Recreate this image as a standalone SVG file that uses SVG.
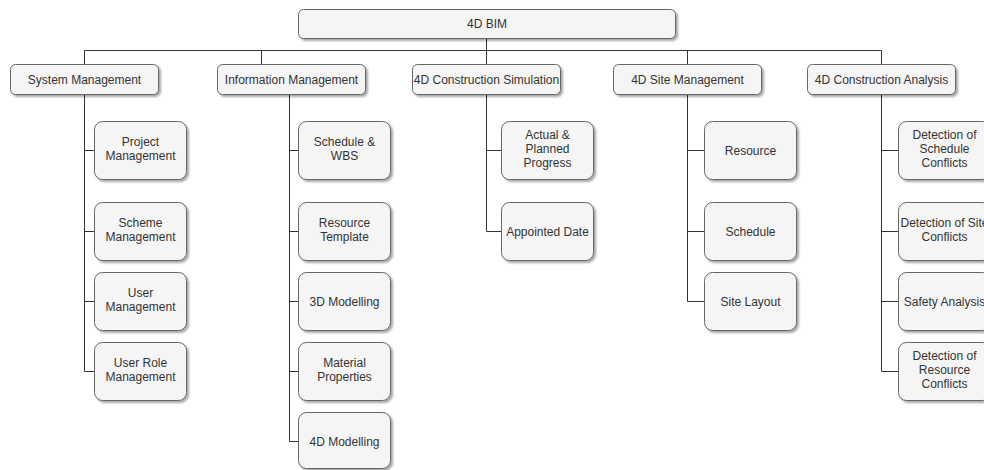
<svg xmlns="http://www.w3.org/2000/svg" width="984" height="470" viewBox="0 0 984 470">
  <defs>
    <filter id="shadow" x="-10%" y="-10%" width="130%" height="140%">
      <feGaussianBlur in="SourceAlpha" stdDeviation="1"/>
      <feOffset dx="2" dy="2" result="b"/>
      <feComponentTransfer><feFuncA type="linear" slope="0.35"/></feComponentTransfer>
      <feMerge><feMergeNode/><feMergeNode in="SourceGraphic"/></feMerge>
    </filter>
    <style>
      .box { fill: #f5f5f5; stroke: #666666; stroke-width: 1; filter: url(#shadow); }
      .lbl { font-family: "Liberation Sans", Arial, sans-serif; font-size: 12px; fill: #333333; text-anchor: middle; }
      .edge { fill: none; stroke: #333333; stroke-width: 1; }
    </style>
  </defs>
  <rect width="984" height="470" fill="#ffffff"/>

  <!-- connectors -->
  <g id="connectors" class="edge">
    <path d="M486.5 38.5 V64"/>
    <path d="M84.5 50.5 H881.5"/>
    <path d="M84.5 50.5 V64"/>
    <path d="M261.5 50.5 V64"/>
    <path d="M687.5 50.5 V64"/>
    <path d="M881.5 50.5 V64"/>
    <!-- System Management -->
    <path d="M84.5 94 V371.5 H94"/>
    <path d="M84.5 150.5 H94 M84.5 231.5 H94 M84.5 301.5 H94"/>
    <!-- Information Management -->
    <path d="M289.5 94 V441.5 H298"/>
    <path d="M289.5 150.5 H298 M289.5 231.5 H298 M289.5 301.5 H298 M289.5 371.5 H298"/>
    <!-- 4D Construction Simulation -->
    <path d="M486.5 94 V231.5 H501"/>
    <path d="M486.5 150.5 H501"/>
    <!-- 4D Site Management -->
    <path d="M687.5 94 V301.5 H704"/>
    <path d="M687.5 150.5 H704 M687.5 231.5 H704"/>
    <!-- 4D Construction Analysis -->
    <path d="M881.5 94 V371.5 H898"/>
    <path d="M881.5 150.5 H898 M881.5 231.5 H898 M881.5 301.5 H898"/>
  </g>

  <!-- root -->
  <g id="root">
    <rect class="box" x="298.5" y="9.5" width="377" height="29" rx="5"/>
    <text class="lbl" x="487" y="28">4D BIM</text>
  </g>

  <!-- first level -->
  <g id="system-management">
    <rect class="box" x="10.5" y="64.5" width="148" height="30" rx="5"/>
    <text class="lbl" x="84.5" y="83.5">System Management</text>
  </g>
  <g id="information-management">
    <rect class="box" x="217.5" y="64.5" width="148" height="30" rx="5"/>
    <text class="lbl" x="291.5" y="83.5">Information Management</text>
  </g>
  <g id="construction-simulation">
    <rect class="box" x="412.5" y="64.5" width="148" height="30" rx="5"/>
    <text class="lbl" x="486.5" y="83.5">4D Construction Simulation</text>
  </g>
  <g id="site-management">
    <rect class="box" x="613.5" y="64.5" width="148" height="30" rx="5"/>
    <text class="lbl" x="687.5" y="83.5">4D Site Management</text>
  </g>
  <g id="construction-analysis">
    <rect class="box" x="807.5" y="64.5" width="148" height="30" rx="5"/>
    <text class="lbl" x="881.5" y="83.5">4D Construction Analysis</text>
  </g>

  <!-- System Management children -->
  <g id="project-management">
    <rect class="box" x="94.5" y="121.5" width="92" height="58" rx="8"/>
    <text class="lbl" x="140.5" y="146">Project</text>
    <text class="lbl" x="140.5" y="160">Management</text>
  </g>
  <g id="scheme-management">
    <rect class="box" x="94.5" y="202.5" width="92" height="58" rx="8"/>
    <text class="lbl" x="140.5" y="227">Scheme</text>
    <text class="lbl" x="140.5" y="241">Management</text>
  </g>
  <g id="user-management">
    <rect class="box" x="94.5" y="272.5" width="92" height="58" rx="8"/>
    <text class="lbl" x="140.5" y="297">User</text>
    <text class="lbl" x="140.5" y="311">Management</text>
  </g>
  <g id="user-role-management">
    <rect class="box" x="94.5" y="342.5" width="92" height="58" rx="8"/>
    <text class="lbl" x="140.5" y="367">User Role</text>
    <text class="lbl" x="140.5" y="381">Management</text>
  </g>

  <!-- Information Management children -->
  <g id="schedule-wbs">
    <rect class="box" x="298.5" y="121.5" width="92" height="58" rx="8"/>
    <text class="lbl" x="344.5" y="146">Schedule &amp;</text>
    <text class="lbl" x="344.5" y="160">WBS</text>
  </g>
  <g id="resource-template">
    <rect class="box" x="298.5" y="202.5" width="92" height="58" rx="8"/>
    <text class="lbl" x="344.5" y="227">Resource</text>
    <text class="lbl" x="344.5" y="241">Template</text>
  </g>
  <g id="modelling-3d">
    <rect class="box" x="298.5" y="272.5" width="92" height="58" rx="8"/>
    <text class="lbl" x="344.5" y="305.5">3D Modelling</text>
  </g>
  <g id="material-properties">
    <rect class="box" x="298.5" y="342.5" width="92" height="58" rx="8"/>
    <text class="lbl" x="344.5" y="367">Material</text>
    <text class="lbl" x="344.5" y="381">Properties</text>
  </g>
  <g id="modelling-4d">
    <rect class="box" x="298.5" y="412.5" width="92" height="56" rx="8"/>
    <text class="lbl" x="344.5" y="445.5">4D Modelling</text>
  </g>

  <!-- 4D Construction Simulation children -->
  <g id="actual-planned-progress">
    <rect class="box" x="501.5" y="121.5" width="92" height="58" rx="8"/>
    <text class="lbl" x="547.5" y="139">Actual &amp;</text>
    <text class="lbl" x="547.5" y="153">Planned</text>
    <text class="lbl" x="547.5" y="167">Progress</text>
  </g>
  <g id="appointed-date">
    <rect class="box" x="501.5" y="202.5" width="92" height="58" rx="8"/>
    <text class="lbl" x="547.5" y="235.5">Appointed Date</text>
  </g>

  <!-- 4D Site Management children -->
  <g id="resource">
    <rect class="box" x="704.5" y="121.5" width="92" height="58" rx="8"/>
    <text class="lbl" x="750.5" y="154.5">Resource</text>
  </g>
  <g id="schedule">
    <rect class="box" x="704.5" y="202.5" width="92" height="58" rx="8"/>
    <text class="lbl" x="750.5" y="235.5">Schedule</text>
  </g>
  <g id="site-layout">
    <rect class="box" x="704.5" y="272.5" width="92" height="58" rx="8"/>
    <text class="lbl" x="750.5" y="305.5">Site Layout</text>
  </g>

  <!-- 4D Construction Analysis children -->
  <g id="schedule-conflicts">
    <rect class="box" x="898.5" y="121.5" width="92" height="58" rx="8"/>
    <text class="lbl" x="944.5" y="139">Detection of</text>
    <text class="lbl" x="944.5" y="153">Schedule</text>
    <text class="lbl" x="944.5" y="167">Conflicts</text>
  </g>
  <g id="site-conflicts">
    <rect class="box" x="898.5" y="202.5" width="92" height="58" rx="8"/>
    <text class="lbl" x="944.5" y="227">Detection of Site</text>
    <text class="lbl" x="944.5" y="241">Conflicts</text>
  </g>
  <g id="safety-analysis">
    <rect class="box" x="898.5" y="272.5" width="92" height="58" rx="8"/>
    <text class="lbl" x="944.5" y="305.5">Safety Analysis</text>
  </g>
  <g id="resource-conflicts">
    <rect class="box" x="898.5" y="342.5" width="92" height="58" rx="8"/>
    <text class="lbl" x="944.5" y="360">Detection of</text>
    <text class="lbl" x="944.5" y="374">Resource</text>
    <text class="lbl" x="944.5" y="388">Conflicts</text>
  </g>
</svg>
